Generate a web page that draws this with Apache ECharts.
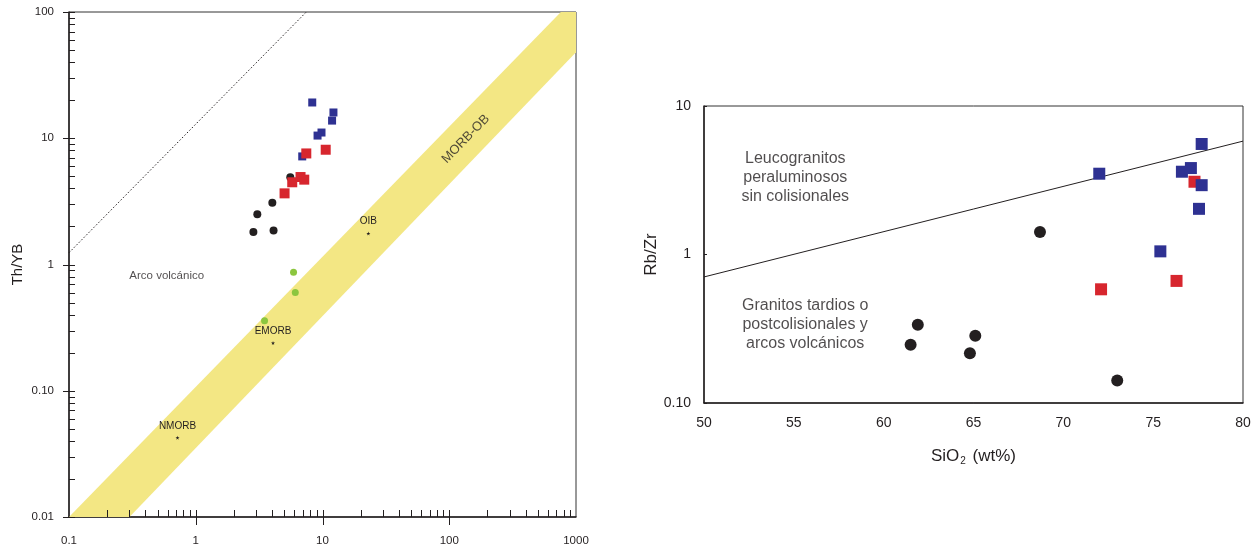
<!DOCTYPE html>
<html>
<head>
<meta charset="utf-8">
<script src="https://cdn.jsdelivr.net/npm/echarts@6/dist/echarts.min.js"></script>
<style>
  html, body { margin: 0; padding: 0; background: #fff; }
  #chart { width: 1257px; height: 554px; }
</style>
</head>
<body>
<div id="chart"></div>
<script>
// ---- left diagram: Th/Yb (log-log) ----
const leftXTicks = [0.1, 1, 10, 100, 1000];
const leftXTickLabels = ["0.1", "1", "10", "100", "1000"];
const leftYTicks = [0.01, 0.1, 1, 10, 100];
const leftYTickLabels = ["0.01", "0.10", "1", "10", "100"];
const leftXMinor = [0.2, 0.3, 0.4, 0.5, 0.6, 0.7, 0.8, 0.9, 1, 2, 3, 4, 5, 6, 7, 8, 9, 10,
  20, 30, 40, 50, 60, 70, 80, 90, 100, 200, 300, 400, 500, 600, 700, 800, 900];
const leftXMajor = [1, 10, 100];
const leftYMinor = [0.02, 0.03, 0.04, 0.05, 0.06, 0.07, 0.08, 0.09, 0.2, 0.3, 0.4, 0.5, 0.6, 0.7, 0.8, 0.9,
  2, 3, 4, 5, 6, 7, 8, 9, 20, 30, 40, 50, 60, 70, 80, 90];

const bandX = [0.1, 760, 1000, 1000, 0.3];
const bandY = [0.01, 100, 100, 48, 0.01];
const dottedX = [0.1, 7.45];
const dottedY = [1.24, 100];

const leftBlackX = [2.85, 3.06, 4.02, 4.11, 5.57];
const leftBlackY = [1.81, 2.50, 3.08, 1.86, 4.90];
const leftRedX = [5.02, 5.77, 6.71, 7.18, 7.45, 10.6];
const leftRedY = [3.66, 4.48, 4.93, 4.70, 7.58, 8.11];
const leftBlueX = [6.92, 8.30, 12.2, 11.9, 9.82, 9.14];
const leftBlueY = [7.18, 19.2, 16.0, 13.8, 11.1, 10.5];
const leftGreenX = [5.91, 6.10, 3.49];
const leftGreenY = [0.869, 0.601, 0.359];

const refNames = ["OIB", "EMORB", "NMORB"];
const refX = [23, 4.07, 0.718];
const refY = [1.76, 0.239, 0.0424];

// ---- right diagram: Rb/Zr vs SiO2 ----
const rightXTicks = [50, 55, 60, 65, 70, 75, 80];
const rightYTicks = [0.1, 1, 10];
const rightYTickLabels = ["0.10", "1", "10"];
const boundX = [50, 80];
const boundY = [0.706, 5.8];

const rightBlackX = [61.9, 61.5, 65.1, 64.8, 73.0, 68.7];
const rightBlackY = [0.337, 0.247, 0.284, 0.216, 0.142, 1.42];
const rightRedX = [72.1, 76.3, 77.3];
const rightRedY = [0.583, 0.664, 3.09];
const rightBlueX = [72.0, 77.7, 76.6, 77.1, 77.7, 77.55, 75.4];
const rightBlueY = [3.50, 5.55, 3.61, 3.82, 2.93, 2.03, 1.05];

const INK = "#231f20";
const FONT = "Liberation Sans, Arial, sans-serif";

const zip = (xs, ys) => xs.map((x, i) => [x, ys[i]]);
const logLabel = (ticks, labels) => (v) => {
  const i = ticks.findIndex((t) => Math.abs(Math.log10(t) - Math.log10(v)) < 1e-6);
  return i >= 0 ? labels[i] : "";
};

// tick drawing helper (custom series, positioned through the axes)
function tickSeries(data, dir, up, down, xi) {
  return {
    type: "custom",
    xAxisIndex: xi,
    yAxisIndex: xi,
    silent: true,
    clip: false,
    z: 10,
    data: data,
    renderItem: (params, api) => {
      const p = api.coord([api.value(0), api.value(1)]);
      let shape;
      if (dir === "x") {
        const x = Math.round(p[0]) + 0.5;
        shape = { x1: x, y1: p[1] - up, x2: x, y2: p[1] + down };
      } else {
        const y = Math.round(p[1]) + 0.5;
        shape = { x1: p[0] - down, y1: y, x2: p[0] + up, y2: y };
      }
      return { type: "line", shape: shape, style: { stroke: INK, lineWidth: 1 } };
    },
  };
}

const annot = (x, y, text, extra) => ({
  type: "scatter",
  xAxisIndex: extra.axis,
  yAxisIndex: extra.axis,
  symbolSize: 0,
  silent: true,
  z: 6,
  data: [[x, y]],
  label: Object.assign({
    show: true,
    position: "inside",
    formatter: text,
    color: INK,
    fontFamily: FONT,
  }, extra.label),
});

const option = {
  animation: false,
  backgroundColor: "#fff",
  grid: [
    { left: 69, top: 12, width: 507, height: 505, show: true, borderColor: "#333", borderWidth: 1, backgroundColor: "transparent" },
    { left: 704, top: 106, width: 539, height: 297, show: true, borderColor: "#333", borderWidth: 1, backgroundColor: "transparent" },
  ],
  xAxis: [
    {
      gridIndex: 0, type: "log", logBase: 10, min: 0.1, max: 1000,
      axisLine: { lineStyle: { color: INK, width: 1.5 } },
      axisTick: { show: false },
      splitLine: { show: false },
      axisLabel: { formatter: logLabel(leftXTicks, leftXTickLabels), color: INK, fontSize: 11.5, fontFamily: FONT, margin: 18, showMinLabel: true, showMaxLabel: true },
    },
    {
      gridIndex: 1, type: "value", min: 50, max: 80, interval: 5,
      axisLine: { lineStyle: { color: INK, width: 1.5 } },
      axisTick: { show: false },
      splitLine: { show: false },
      axisLabel: { color: INK, fontSize: 14, fontFamily: FONT, margin: 13 },
      name: "{a|SiO}{s|2}{a| (wt%)}",
      nameLocation: "middle",
      nameGap: 43,
      nameTextStyle: {
        rich: {
          a: { fontSize: 17, fontFamily: FONT, color: INK },
          s: { fontSize: 10, fontFamily: FONT, color: INK, padding: [10, 2, 0, 1] },
        },
      },
    },
  ],
  yAxis: [
    {
      gridIndex: 0, type: "log", logBase: 10, min: 0.01, max: 100,
      axisLine: { lineStyle: { color: INK, width: 1.5 } },
      axisTick: { show: false },
      splitLine: { show: false },
      axisLabel: { formatter: logLabel(leftYTicks, leftYTickLabels), color: INK, fontSize: 11.5, fontFamily: FONT, margin: 15 },
      name: "Th/YB",
      nameLocation: "middle",
      nameGap: 44,
      nameTextStyle: { fontSize: 15, fontFamily: FONT, color: INK },
    },
    {
      gridIndex: 1, type: "log", logBase: 10, min: 0.1, max: 10,
      axisLine: { lineStyle: { color: INK, width: 1.5 } },
      axisTick: { show: true, inside: true, length: 3, lineStyle: { color: INK } },
      splitLine: { show: false },
      axisLabel: { formatter: logLabel(rightYTicks, rightYTickLabels), color: INK, fontSize: 14, fontFamily: FONT, margin: 13 },
      name: "Rb/Zr",
      nameLocation: "middle",
      nameGap: 40,
      nameTextStyle: { fontSize: 17, fontFamily: FONT, color: INK },
    },
  ],
  series: [
    // MORB-OIB band
    {
      type: "custom",
      xAxisIndex: 0,
      yAxisIndex: 0,
      silent: true,
      z: 1,
      clip: true,
      data: [0],
      renderItem: (params, api) => ({
        type: "polygon",
        shape: { points: bandX.map((x, i) => api.coord([x, bandY[i]])) },
        style: { fill: "#f3e784" },
      }),
    },
    {
      type: "line",
      xAxisIndex: 0, yAxisIndex: 0,
      data: zip(dottedX, dottedY),
      symbol: "none",
      silent: true,
      lineStyle: { color: INK, width: 1, type: [1.5, 2] },
    },
    tickSeries(leftXMinor.map((v) => [v, 0.01]), "x", 7, 0, 0),
    tickSeries(leftXMajor.map((v) => [v, 0.01]), "x", 0, 8, 0),
    tickSeries(leftYMinor.map((v) => [0.1, v]), "y", 6, 0, 0),
    tickSeries(leftYTicks.map((v) => [0.1, v]), "y", 6, 6, 0),
    {
      type: "scatter", xAxisIndex: 0, yAxisIndex: 0, z: 5,
      symbol: "circle", symbolSize: 8,
      itemStyle: { color: INK, opacity: 1 },
      data: zip(leftBlackX, leftBlackY),
    },
    {
      type: "scatter", xAxisIndex: 0, yAxisIndex: 0, z: 5,
      symbol: "rect", symbolSize: 8,
      itemStyle: { color: "#2e3192", opacity: 1 },
      data: zip(leftBlueX, leftBlueY),
    },
    {
      type: "scatter", xAxisIndex: 0, yAxisIndex: 0, z: 6,
      symbol: "rect", symbolSize: 10,
      itemStyle: { color: "#d7262e", opacity: 1 },
      data: zip(leftRedX, leftRedY),
    },
    {
      type: "scatter", xAxisIndex: 0, yAxisIndex: 0, z: 5,
      symbol: "circle", symbolSize: 7,
      itemStyle: { color: "#8cc63f", opacity: 1 },
      data: zip(leftGreenX, leftGreenY),
    },
    {
      type: "scatter", xAxisIndex: 0, yAxisIndex: 0, z: 5,
      symbol: "path://M50,0 L61,35 L98,35 L68,57 L79,91 L50,70 L21,91 L32,57 L2,35 L39,35 Z",
      symbolSize: 4,
      itemStyle: { color: INK, opacity: 1 },
      data: refX.map((x, i) => ({ value: [x, refY[i]], name: refNames[i] })),
      label: {
        show: true, position: "top", distance: 5,
        formatter: (p) => p.name,
        color: INK, fontSize: 10, fontFamily: FONT,
      },
    },
    annot(0.59, 0.82, "Arco volcánico", { axis: 0, label: { fontSize: 11.5 } }),
    annot(135, 9.86, "MORB-OB", { axis: 0, label: { fontSize: 13, rotate: 46 } }),

    // right diagram
    {
      type: "line",
      xAxisIndex: 1, yAxisIndex: 1,
      data: zip(boundX, boundY),
      symbol: "none",
      silent: true,
      lineStyle: { color: INK, width: 1 },
    },
    {
      type: "scatter", xAxisIndex: 1, yAxisIndex: 1, z: 5,
      symbol: "circle", symbolSize: 12,
      itemStyle: { color: INK, opacity: 1 },
      data: zip(rightBlackX, rightBlackY),
    },
    {
      type: "scatter", xAxisIndex: 1, yAxisIndex: 1, z: 5,
      symbol: "rect", symbolSize: 12,
      itemStyle: { color: "#d7262e", opacity: 1 },
      data: zip(rightRedX, rightRedY),
    },
    {
      type: "scatter", xAxisIndex: 1, yAxisIndex: 1, z: 6,
      symbol: "rect", symbolSize: 12,
      itemStyle: { color: "#2e3192", opacity: 1 },
      data: zip(rightBlueX, rightBlueY),
    },
    annot(55.08, 3.32, "Leucogranitos\nperaluminosos\nsin colisionales", { axis: 1, label: { fontSize: 16, lineHeight: 19, align: "center" } }),
    annot(55.63, 0.339, "Granitos tardios o\npostcolisionales y\narcos volcánicos", { axis: 1, label: { fontSize: 16, lineHeight: 19, align: "center" } }),
  ],
};

const myChart = echarts.init(document.getElementById("chart"));
myChart.setOption(option);
window.onresize = () => {
  myChart.resize();
};
</script>
</body>
</html>
